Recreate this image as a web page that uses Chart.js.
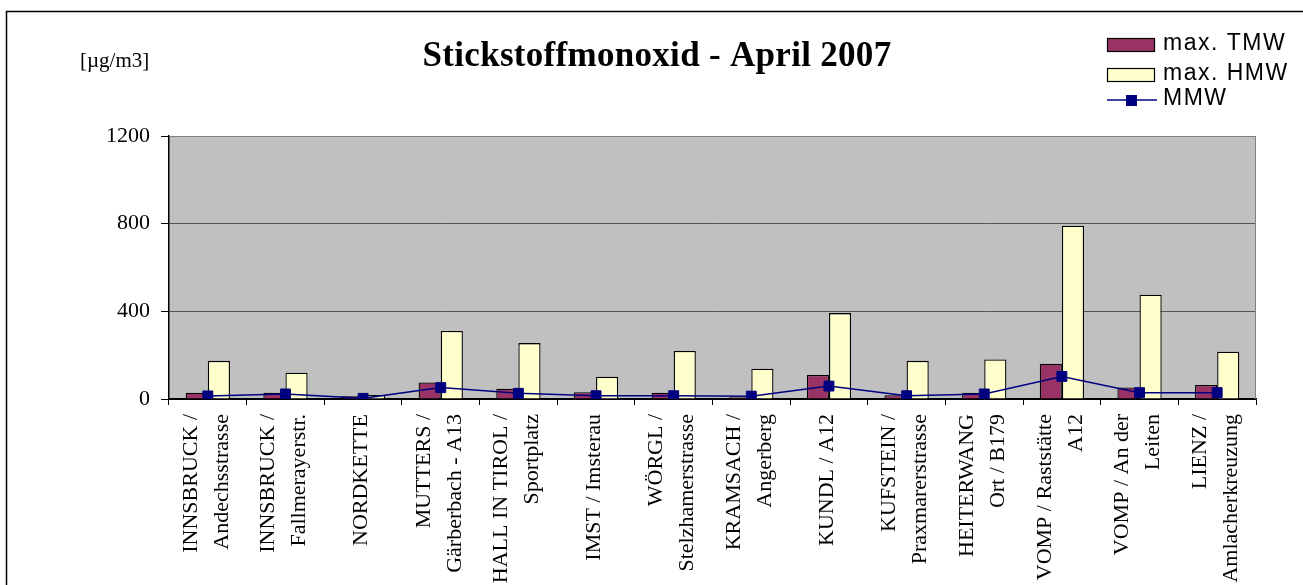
<!DOCTYPE html>
<html>
<head>
<meta charset="utf-8">
<script src="https://cdn.jsdelivr.net/npm/chart.js@4.4.1/dist/chart.umd.min.js"></script>
<style>
  html, body { margin: 0; padding: 0; background: #fff; }
</style>
</head>
<body>
<canvas id="chart" width="1303" height="585"></canvas>
<script>
'use strict';

const stations = [
    ['INNSBRUCK /', 'Andechsstrasse'],
    ['INNSBRUCK /', 'Fallmerayerstr.'],
    'NORDKETTE',
    ['MUTTERS /', 'Gärberbach - A13'],
    ['HALL IN TIROL /', 'Sportplatz'],
    'IMST / Imsterau',
    ['WÖRGL /', 'Stelzhamerstrasse'],
    ['KRAMSACH /', 'Angerberg'],
    'KUNDL / A12',
    ['KUFSTEIN /', 'Praxmarerstrasse'],
    ['HEITERWANG', 'Ort / B179'],
    ['VOMP / Raststätte', 'A12'],
    ['VOMP / An der', 'Leiten'],
    ['LIENZ /', 'Amlacherkreuzung']
];
const maxTMW = [29, 29, 12, 75, 47, 31, 29, 8, 110, 17, 28, 161, 53, 64];
const maxHMW = [174, 120, 18, 310, 255, 102, 219, 138, 392, 174, 180, 791, 476, 216];
const mmw = [14, 23, 3, 52, 26, 15, 15, 13, 59, 15, 23, 103, 29, 29];
const yTicks = [0, 400, 800, 1200];

const chartTitle = 'Stickstoffmonoxid - April 2007';
const unitLabel = '[µg/m3]';

const serif = "'Times New Roman', 'Liberation Serif', serif";
const sans = "Arial, 'Liberation Sans', sans-serif";

// Excel centres a two-line label on its tick; Chart.js starts at the tick,
// so a blank half line is inserted and the whole block shifted back.
const tickLines = s => Array.isArray(s) ? [s[0], '', s[1]] : ['', s];

const decor = {
    id: 'decor',
    beforeDraw(chart) {
        const { ctx, chartArea: a } = chart;
        ctx.save();
        ctx.fillStyle = '#fff';
        ctx.fillRect(0, 0, chart.width, chart.height);
        ctx.fillStyle = '#c0c0c0';
        ctx.fillRect(a.left, a.top, a.right - a.left, a.bottom - a.top);
        ctx.restore();
    },
    beforeDatasetsDraw(chart) {
        const { ctx, chartArea: a } = chart;
        ctx.save();
        ctx.strokeStyle = '#808080';
        ctx.lineWidth = 1;
        ctx.beginPath();
        ctx.moveTo(Math.round(a.right) - 0.5, a.top);
        ctx.lineTo(Math.round(a.right) - 0.5, a.bottom);
        ctx.stroke();
        ctx.restore();
    },
    afterDraw(chart) {
        const ctx = chart.ctx;
        ctx.save();

        // outer frame
        ctx.strokeStyle = '#000';
        ctx.lineWidth = 1.5;
        ctx.strokeRect(6.5, 11.5, 1400, 700);

        // title and unit
        ctx.fillStyle = '#000';
        ctx.textAlign = 'center';
        ctx.textBaseline = 'alphabetic';
        ctx.font = 'bold 35px ' + serif;
        ctx.letterSpacing = '0.3px';
        ctx.fillText(chartTitle, 657, 66);
        ctx.letterSpacing = '0px';
        ctx.textAlign = 'left';
        ctx.font = '21px ' + serif;
        ctx.fillText(unitLabel, 80, 67);

        // legend
        const ds = chart.data.datasets;
        const rows = [45, 75, 100];
        ctx.font = '23px ' + sans;
        ctx.letterSpacing = '1.5px';
        ctx.textBaseline = 'middle';
        ds.forEach((d, i) => {
            const y = rows[i];
            if (d.type === 'line') {
                ctx.strokeStyle = d.borderColor;
                ctx.lineWidth = 1.5;
                ctx.beginPath();
                ctx.moveTo(1107, y);
                ctx.lineTo(1157, y);
                ctx.stroke();
                ctx.fillStyle = d.borderColor;
                ctx.fillRect(1126, y - 5, 11, 11);
            } else {
                ctx.fillStyle = d.backgroundColor;
                ctx.fillRect(1107.5, y - 6.5, 47, 13);
                ctx.strokeStyle = '#000';
                ctx.lineWidth = 1.2;
                ctx.strokeRect(1107.5, y - 6.5, 47, 13);
            }
            ctx.fillStyle = '#000';
            ctx.fillText(d.label, 1163, y - 1);
        });
        ctx.restore();
    }
};

new Chart(document.getElementById('chart'), {
    type: 'bar',
    data: {
        labels: stations.map(tickLines),
        datasets: [
            {
                label: 'max. TMW',
                data: maxTMW,
                backgroundColor: '#993366',
                borderColor: '#000',
                borderWidth: 1.3,
                categoryPercentage: 0.57,
                barPercentage: 1,
                order: 1
            },
            {
                label: 'max. HMW',
                data: maxHMW,
                backgroundColor: '#ffffcc',
                borderColor: '#000',
                borderWidth: 1.3,
                categoryPercentage: 0.57,
                barPercentage: 1,
                order: 1
            },
            {
                type: 'line',
                label: 'MMW',
                data: mmw,
                borderColor: '#000080',
                backgroundColor: '#000080',
                borderWidth: 1.5,
                tension: 0,
                pointStyle: 'rect',
                pointRadius: 7,
                pointBorderWidth: 1,
                order: 0
            }
        ]
    },
    options: {
        responsive: false,
        animation: false,
        layout: {
            padding: { left: 0, right: 47, top: 136, bottom: 0 }
        },
        plugins: {
            legend: { display: false },
            title: { display: false },
            tooltip: { enabled: false }
        },
        scales: {
            x: {
                offset: true,
                grid: {
                    offset: true,
                    drawOnChartArea: false,
                    tickColor: '#000',
                    tickLength: 6
                },
                border: { color: '#000', width: 1.5 },
                ticks: {
                    autoSkip: false,
                    minRotation: 90,
                    maxRotation: 90,
                    color: '#000',
                    padding: 9,
                    labelOffset: -17,
                    font: { family: serif, size: 22, lineHeight: '15.5px' }
                },
                afterFit: s => { s.height = 186; }
            },
            y: {
                min: 0,
                max: 1200,
                afterBuildTicks: s => { s.ticks = yTicks.map(v => ({ value: v })); },
                grid: {
                    color: c => {
                        if (!c.tick) return '#555';
                        if (c.tick.value === 0) return '#000';
                        return c.tick.value === 1200 ? '#808080' : '#555';
                    },
                    tickColor: '#000',
                    tickLength: 8,
                    lineWidth: 1
                },
                border: { color: '#000', width: 1.5 },
                ticks: {
                    color: '#000',
                    padding: 11,
                    font: { family: serif, size: 22 },
                    callback: v => String(v)
                },
                afterFit: s => { s.width = 169; }
            }
        }
    },
    plugins: [decor]
});
</script>
</body>
</html>
